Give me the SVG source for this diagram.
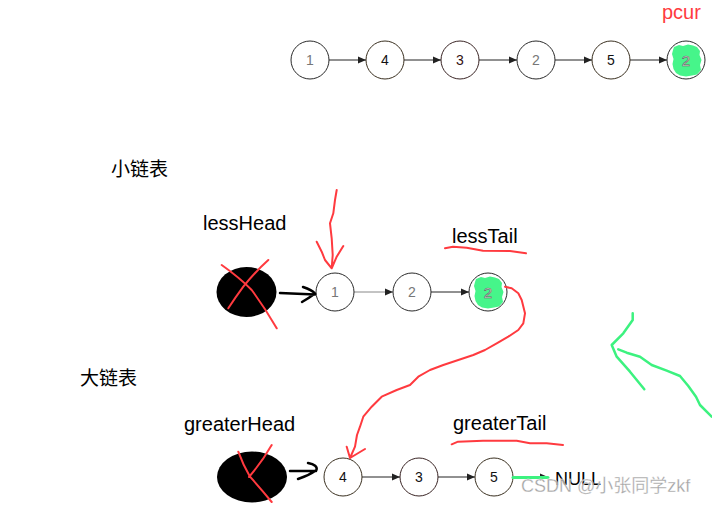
<svg xmlns="http://www.w3.org/2000/svg" width="712" height="505" viewBox="0 0 712 505">
<defs>
<marker id="ah" markerUnits="userSpaceOnUse" markerWidth="9" markerHeight="8" refX="8" refY="4" orient="auto">
<path d="M0,0.5 L8,4 L0,7.5 Z" fill="#222"/>
</marker>
<style>
.node circle{fill:#fff;stroke:#2a2a2a;stroke-width:1}
.node text{font-family:"Liberation Sans",Arial,sans-serif;font-size:14px;text-anchor:middle}
.lbl{font-family:"Liberation Sans",Arial,sans-serif;font-size:20px;fill:#000}
.cjk{font-family:"Liberation Sans","Noto Sans CJK SC",sans-serif;font-size:19px;fill:#000}
.conn line{stroke:#222;stroke-width:1;marker-end:url(#ah)}
.red{fill:none;stroke:#ff3a3f;stroke-width:2;stroke-linecap:round;stroke-linejoin:round}
.grn{fill:none;stroke:#3cf27f;stroke-width:2.5;stroke-linecap:round;stroke-linejoin:round}
.blk{fill:none;stroke:#000;stroke-width:2.5;stroke-linecap:round;stroke-linejoin:round}
.blob{fill:#46f58a}
.node text.g2{fill:#fafafa;stroke:#6a6a6a;stroke-width:0.7;font-size:15px}
</style>
</defs>
<rect width="712" height="505" fill="#fff"/>

<!-- connectors -->
<g id="connectors" class="conn">
<line x1="329" y1="60" x2="366" y2="60"/>
<line x1="404" y1="60" x2="441" y2="60"/>
<line x1="479" y1="60" x2="517" y2="60"/>
<line x1="555" y1="60" x2="592" y2="60"/>
<line x1="630" y1="60" x2="667" y2="60"/>
<line x1="354" y1="292" x2="393" y2="292" style="stroke:#888"/>
<line x1="431" y1="292" x2="469" y2="292"/>
<line x1="362" y1="477" x2="400" y2="477"/>
<line x1="438" y1="477" x2="475" y2="477"/>
<line x1="513" y1="477" x2="548" y2="477"/>
</g>

<!-- top list -->
<g id="top1" class="node"><circle cx="310" cy="60" r="19"/><text x="310" y="65" fill="#777">1</text></g>
<g id="top4" class="node"><circle cx="385" cy="60" r="19" style="stroke:#3a3020"/><text x="385" y="65" fill="#111">4</text></g>
<g id="top3" class="node"><circle cx="460" cy="60" r="19" style="stroke:#3a2525"/><text x="460" y="65" fill="#311">3</text></g>
<g id="top2" class="node"><circle cx="536" cy="60" r="19"/><text x="536" y="65" fill="#777">2</text></g>
<g id="top5" class="node"><circle cx="611" cy="60" r="19" style="stroke:#3a3020"/><text x="611" y="65" fill="#111">5</text></g>
<g id="top2b" class="node"><circle cx="686" cy="60" r="19"/>
<path class="blob" d="M674,47 L679,45 L683,46 L688,44.5 L693,45.5 L697,47 L700,51 L699.5,55 L701.5,60 L700,65 L701,70 L697,74.5 L692,75.5 L686,76.5 L680,75.5 L676,73 L673.5,69 L672.5,64 L673.5,59 L672,54 L673,50 Z"/>
<text x="686" y="65.5" class="g2">2</text></g>
<text x="662" y="19" class="lbl" style="fill:#ff3b3f">pcur</text>

<!-- small list -->
<text x="111" y="176" class="cjk">小链表</text>
<text x="203" y="230" class="lbl">lessHead</text>
<text x="452" y="243" class="lbl">lessTail</text>
<g id="lessHeadNode"><ellipse cx="246.5" cy="292" rx="30" ry="25" fill="#000"/></g>
<g id="s1" class="node"><circle cx="335" cy="292" r="19"/><text x="335" y="297" fill="#777">1</text></g>
<g id="s2" class="node"><circle cx="412" cy="292" r="19"/><text x="412" y="297" fill="#777">2</text></g>
<g id="s2b" class="node"><circle cx="488" cy="292" r="19"/>
<path class="blob" d="M476,279 L481,277 L485,278 L490,276.5 L495,277.5 L499,279 L502,283 L501.5,287 L503.5,292 L502,297 L503,302 L499,306.5 L494,307.5 L488,308.5 L482,307.5 L478,305 L475.5,301 L474.5,296 L475.5,291 L474,286 L475,282 Z"/>
<text x="488" y="297.5" class="g2">2</text></g>

<!-- big list -->
<text x="80" y="385" class="cjk">大链表</text>
<text x="184" y="431" class="lbl">greaterHead</text>
<text x="453" y="430" class="lbl">greaterTail</text>
<g id="greaterHeadNode"><ellipse cx="252" cy="477" rx="35" ry="25.5" fill="#000"/></g>
<g id="b4" class="node"><circle cx="343" cy="477" r="19" style="stroke:#3a3020"/><text x="343" y="482" fill="#111">4</text></g>
<g id="b3" class="node"><circle cx="419" cy="477" r="19" style="stroke:#3a2525"/><text x="419" y="482" fill="#111">3</text></g>
<g id="b5" class="node"><circle cx="494" cy="477" r="19" style="stroke:#3a3020"/><text x="494" y="482" fill="#111">5</text></g>
<text x="555" y="485" class="lbl" style="font-size:18px">NULL</text>

<!-- hand-drawn annotations -->
<g id="annotations">
<path class="blk" d="M280,293 L315,294.5 M303,287 Q312,290 315,293.5 Q309,298 302,302"/>
<path class="blk" d="M290,471 L316,471 M308,463 Q318,465 316.5,470 Q308,476 298,479"/>
<path class="red" d="M221.7,265 Q240,278 251.7,290 Q265,308 276.7,328.3 M268.3,260 Q255,272 243.3,286.7 Q235,298 228.3,308.3"/>
<path class="red" d="M238.3,451.7 Q243,465 250,476.7 Q262,490 271.7,502 M271.7,445 Q262,462 249,477"/>
<path class="red" d="M336.7,190 L335,200 L333.3,213.3 L330,223.3 L331.7,238.3 L332.7,255 L331.7,268.3 M316.7,241.7 L321.7,251.7 L325,260 L331.7,268.3 M343.3,246 L336.7,256.7 L331.7,268.3"/>
<path class="red" d="M445,248.3 L453,246.7 L466.7,247.7 L483,250.7 L510,251 L526,253.3"/>
<path class="red" d="M451.7,444.3 L458,441.7 L483,440.7 L516.7,440.7 L530,443.3 L546.7,443.3 L563,445"/>
<path class="red" d="M505,286.7 L511.7,288.3 L518.3,293.3 L521.7,300 L525,313.3 L523.3,323.3 L518.3,330 L508.3,336.7 L496.7,343.3 L485,350 L473.3,355 L458.3,360 L443.3,365 L430,370 L418.3,376.7 L410,385 L396.7,390 L381.7,396.7 L371.7,406.7 L363.3,416.7 L360,426.7 L357,435 L355,446.7 L350,458 M346.7,446.7 L350,458 L365,449"/>
<path class="grn" d="M632.7,313.3 L632.7,320 L623.3,333.3 L611.7,345 L616.7,356.7 L630,371.7 L644.3,389.3"/>
<path class="grn" d="M618.3,349.3 L626.7,352.7 L640,356.7 L651.7,365 L666.7,370.7 L680,376 L688.3,386 L696,396.7 L700,405 L711.7,416.7"/>
<path class="grn" d="M513,477.5 L548,477.5" style="stroke-width:3"/>
</g>

<text x="521" y="492" style="font-family:'Liberation Sans','Noto Sans CJK SC',sans-serif;font-size:18px;fill:#9c9c9c;stroke:#fff;stroke-width:0.3;opacity:0.95">CSDN @小张同学zkf</text>
</svg>
